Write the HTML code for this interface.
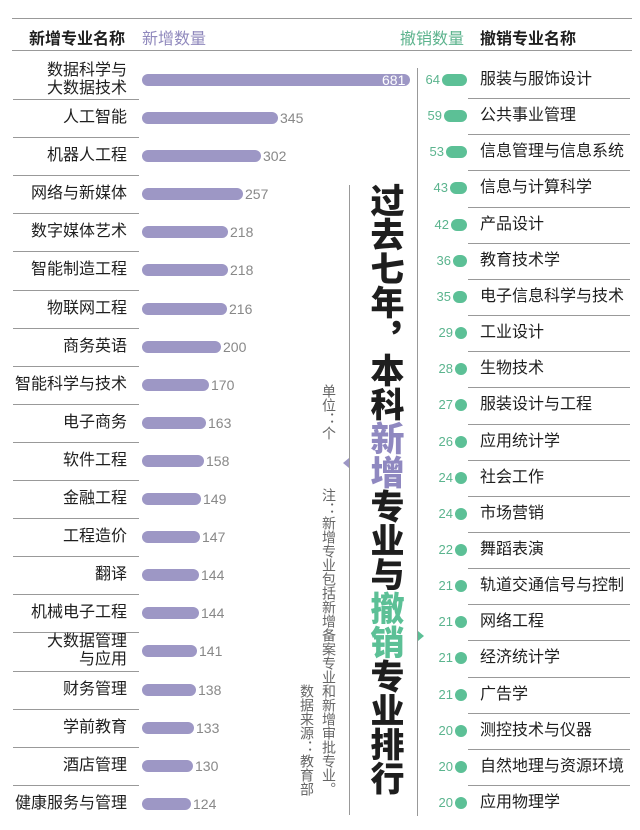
<!DOCTYPE html>
<html><head><meta charset="utf-8"><style>
*{margin:0;padding:0;box-sizing:border-box}
body{width:640px;height:830px;background:#fff;position:relative;overflow:hidden;font-family:"Liberation Sans","Noto Sans CJK SC",sans-serif;color:#1e1e1e}
.a{position:absolute}
.hl{position:absolute;height:1px;background:#999}
.ln{position:absolute;right:513px;width:200px;text-align:right;font-size:16px;line-height:18px}
.bar{position:absolute;left:142px;height:12px;border-radius:6px;background:#9d97c5}
.lv{position:absolute;font-size:14px;color:#888;line-height:14px}
.rn{position:absolute;left:480px;font-size:16px;line-height:18px;white-space:nowrap}
.pl{position:absolute;height:12px;border-radius:6px;background:#5cc096}
.rv{position:absolute;right:200px;width:40px;text-align:right;font-size:13px;color:#5bb48e;line-height:14px}
.vt{position:absolute;writing-mode:vertical-rl;letter-spacing:0}
</style></head><body>
<div class="hl" style="left:12px;top:18px;width:620px"></div>
<div class="hl" style="left:12px;top:50px;width:620px"></div>
<div class="a" style="left:29px;top:25px;font-size:16px;font-weight:bold">新增专业名称</div>
<div class="a" style="left:142px;top:25px;font-size:16px;color:#9089bd">新增数量</div>
<div class="a" style="left:400px;top:25px;font-size:16px;color:#5cb38d">撤销数量</div>
<div class="a" style="left:480px;top:25px;font-size:16px;font-weight:bold">撤销专业名称</div>

<div class="a" style="left:417px;top:68px;width:1px;height:748px;background:#999"></div>
<div class="a" style="left:349px;top:185px;width:1px;height:630px;background:#999"></div>
<div class="a" style="left:343px;top:458px;width:0;height:0;border-top:5px solid transparent;border-bottom:5px solid transparent;border-right:6px solid #9d97c5"></div>
<div class="a" style="left:418px;top:631px;width:0;height:0;border-top:5px solid transparent;border-bottom:5px solid transparent;border-left:6px solid #5cc096"></div>

<div class="vt" style="left:364px;top:183px;font-size:34px;font-weight:900;line-height:40px">过去七年，本科<span style="color:#8f88c0">新增</span>专业与<span style="color:#5cc096">撤销</span>专业排行</div>
<div class="vt" style="left:320px;top:384px;font-size:14px;color:#666;line-height:18px">单位：个</div>
<div class="vt" style="left:320px;top:488px;font-size:14px;color:#666;line-height:18px">注：新增专业包括新增备案专业和新增审批专业。</div>
<div class="vt" style="left:298px;top:684px;font-size:14px;color:#666;line-height:18px">数据来源：教育部</div>

<!-- left rows -->
<div class="ln" style="top:62px">数据科学与<br>大数据技术</div><div class="bar" style="top:74px;width:268px"></div><div class="lv" style="left:382px;top:73px;color:#fff">681</div>
<div class="hl" style="left:13px;top:99px;width:126px"></div>
<div class="ln" style="top:109px">人工智能</div><div class="bar" style="top:112px;width:136px"></div><div class="lv" style="left:280px;top:111px">345</div>
<div class="hl" style="left:13px;top:137px;width:126px"></div>
<div class="ln" style="top:147px">机器人工程</div><div class="bar" style="top:150px;width:119px"></div><div class="lv" style="left:263px;top:149px">302</div>
<div class="hl" style="left:13px;top:175px;width:126px"></div>
<div class="ln" style="top:185px">网络与新媒体</div><div class="bar" style="top:188px;width:101px"></div><div class="lv" style="left:245px;top:187px">257</div>
<div class="hl" style="left:13px;top:213px;width:126px"></div>
<div class="ln" style="top:223px">数字媒体艺术</div><div class="bar" style="top:226px;width:86px"></div><div class="lv" style="left:230px;top:225px">218</div>
<div class="hl" style="left:13px;top:251px;width:126px"></div>
<div class="ln" style="top:261px">智能制造工程</div><div class="bar" style="top:264px;width:86px"></div><div class="lv" style="left:230px;top:263px">218</div>
<div class="hl" style="left:13px;top:290px;width:126px"></div>
<div class="ln" style="top:300px">物联网工程</div><div class="bar" style="top:303px;width:85px"></div><div class="lv" style="left:229px;top:302px">216</div>
<div class="hl" style="left:13px;top:328px;width:126px"></div>
<div class="ln" style="top:338px">商务英语</div><div class="bar" style="top:341px;width:79px"></div><div class="lv" style="left:223px;top:340px">200</div>
<div class="hl" style="left:13px;top:366px;width:126px"></div>
<div class="ln" style="top:376px">智能科学与技术</div><div class="bar" style="top:379px;width:67px"></div><div class="lv" style="left:211px;top:378px">170</div>
<div class="hl" style="left:13px;top:404px;width:126px"></div>
<div class="ln" style="top:414px">电子商务</div><div class="bar" style="top:417px;width:64px"></div><div class="lv" style="left:208px;top:416px">163</div>
<div class="hl" style="left:13px;top:442px;width:126px"></div>
<div class="ln" style="top:452px">软件工程</div><div class="bar" style="top:455px;width:62px"></div><div class="lv" style="left:206px;top:454px">158</div>
<div class="hl" style="left:13px;top:480px;width:126px"></div>
<div class="ln" style="top:490px">金融工程</div><div class="bar" style="top:493px;width:59px"></div><div class="lv" style="left:203px;top:492px">149</div>
<div class="hl" style="left:13px;top:518px;width:126px"></div>
<div class="ln" style="top:528px">工程造价</div><div class="bar" style="top:531px;width:58px"></div><div class="lv" style="left:202px;top:530px">147</div>
<div class="hl" style="left:13px;top:556px;width:126px"></div>
<div class="ln" style="top:566px">翻译</div><div class="bar" style="top:569px;width:57px"></div><div class="lv" style="left:201px;top:568px">144</div>
<div class="hl" style="left:13px;top:594px;width:126px"></div>
<div class="ln" style="top:604px">机械电子工程</div><div class="bar" style="top:607px;width:57px"></div><div class="lv" style="left:201px;top:606px">144</div>
<div class="hl" style="left:13px;top:632px;width:126px"></div>
<div class="ln" style="top:633px">大数据管理<br>与应用</div><div class="bar" style="top:645px;width:55px"></div><div class="lv" style="left:199px;top:644px">141</div>
<div class="hl" style="left:13px;top:671px;width:126px"></div>
<div class="ln" style="top:681px">财务管理</div><div class="bar" style="top:684px;width:54px"></div><div class="lv" style="left:198px;top:683px">138</div>
<div class="hl" style="left:13px;top:709px;width:126px"></div>
<div class="ln" style="top:719px">学前教育</div><div class="bar" style="top:722px;width:52px"></div><div class="lv" style="left:196px;top:721px">133</div>
<div class="hl" style="left:13px;top:747px;width:126px"></div>
<div class="ln" style="top:757px">酒店管理</div><div class="bar" style="top:760px;width:51px"></div><div class="lv" style="left:195px;top:759px">130</div>
<div class="hl" style="left:13px;top:785px;width:126px"></div>
<div class="ln" style="top:795px">健康服务与管理</div><div class="bar" style="top:798px;width:49px"></div><div class="lv" style="left:193px;top:797px">124</div>

<!-- right rows -->
<div class="rn" style="top:71px">服装与服饰设计</div><div class="pl" style="top:74px;left:442px;width:25px"></div><div class="rv" style="top:73px;right:200px">64</div>
<div class="hl" style="left:468px;top:98px;width:162px"></div>
<div class="rn" style="top:107px">公共事业管理</div><div class="pl" style="top:110px;left:444px;width:23px"></div><div class="rv" style="top:109px;right:198px">59</div>
<div class="hl" style="left:468px;top:134px;width:162px"></div>
<div class="rn" style="top:143px">信息管理与信息系统</div><div class="pl" style="top:146px;left:446px;width:21px"></div><div class="rv" style="top:145px;right:196px">53</div>
<div class="hl" style="left:468px;top:170px;width:162px"></div>
<div class="rn" style="top:179px">信息与计算科学</div><div class="pl" style="top:182px;left:450px;width:17px"></div><div class="rv" style="top:181px;right:192px">43</div>
<div class="hl" style="left:468px;top:207px;width:162px"></div>
<div class="rn" style="top:216px">产品设计</div><div class="pl" style="top:219px;left:451px;width:16px"></div><div class="rv" style="top:218px;right:191px">42</div>
<div class="hl" style="left:468px;top:243px;width:162px"></div>
<div class="rn" style="top:252px">教育技术学</div><div class="pl" style="top:255px;left:453px;width:14px"></div><div class="rv" style="top:254px;right:189px">36</div>
<div class="hl" style="left:468px;top:279px;width:162px"></div>
<div class="rn" style="top:288px">电子信息科学与技术</div><div class="pl" style="top:291px;left:453px;width:14px"></div><div class="rv" style="top:290px;right:189px">35</div>
<div class="hl" style="left:468px;top:315px;width:162px"></div>
<div class="rn" style="top:324px">工业设计</div><div class="pl" style="top:327px;left:455px;width:12px"></div><div class="rv" style="top:326px;right:187px">29</div>
<div class="hl" style="left:468px;top:351px;width:162px"></div>
<div class="rn" style="top:360px">生物技术</div><div class="pl" style="top:363px;left:455px;width:12px"></div><div class="rv" style="top:362px;right:187px">28</div>
<div class="hl" style="left:468px;top:387px;width:162px"></div>
<div class="rn" style="top:396px">服装设计与工程</div><div class="pl" style="top:399px;left:455px;width:12px"></div><div class="rv" style="top:398px;right:187px">27</div>
<div class="hl" style="left:468px;top:424px;width:162px"></div>
<div class="rn" style="top:433px">应用统计学</div><div class="pl" style="top:436px;left:455px;width:12px"></div><div class="rv" style="top:435px;right:187px">26</div>
<div class="hl" style="left:468px;top:460px;width:162px"></div>
<div class="rn" style="top:469px">社会工作</div><div class="pl" style="top:472px;left:455px;width:12px"></div><div class="rv" style="top:471px;right:187px">24</div>
<div class="hl" style="left:468px;top:496px;width:162px"></div>
<div class="rn" style="top:505px">市场营销</div><div class="pl" style="top:508px;left:455px;width:12px"></div><div class="rv" style="top:507px;right:187px">24</div>
<div class="hl" style="left:468px;top:532px;width:162px"></div>
<div class="rn" style="top:541px">舞蹈表演</div><div class="pl" style="top:544px;left:455px;width:12px"></div><div class="rv" style="top:543px;right:187px">22</div>
<div class="hl" style="left:468px;top:568px;width:162px"></div>
<div class="rn" style="top:577px">轨道交通信号与控制</div><div class="pl" style="top:580px;left:455px;width:12px"></div><div class="rv" style="top:579px;right:187px">21</div>
<div class="hl" style="left:468px;top:604px;width:162px"></div>
<div class="rn" style="top:613px">网络工程</div><div class="pl" style="top:616px;left:455px;width:12px"></div><div class="rv" style="top:615px;right:187px">21</div>
<div class="hl" style="left:468px;top:640px;width:162px"></div>
<div class="rn" style="top:649px">经济统计学</div><div class="pl" style="top:652px;left:455px;width:12px"></div><div class="rv" style="top:651px;right:187px">21</div>
<div class="hl" style="left:468px;top:677px;width:162px"></div>
<div class="rn" style="top:686px">广告学</div><div class="pl" style="top:689px;left:455px;width:12px"></div><div class="rv" style="top:688px;right:187px">21</div>
<div class="hl" style="left:468px;top:713px;width:162px"></div>
<div class="rn" style="top:722px">测控技术与仪器</div><div class="pl" style="top:725px;left:455px;width:12px"></div><div class="rv" style="top:724px;right:187px">20</div>
<div class="hl" style="left:468px;top:749px;width:162px"></div>
<div class="rn" style="top:758px">自然地理与资源环境</div><div class="pl" style="top:761px;left:455px;width:12px"></div><div class="rv" style="top:760px;right:187px">20</div>
<div class="hl" style="left:468px;top:785px;width:162px"></div>
<div class="rn" style="top:794px">应用物理学</div><div class="pl" style="top:797px;left:455px;width:12px"></div><div class="rv" style="top:796px;right:187px">20</div>
</body></html>
